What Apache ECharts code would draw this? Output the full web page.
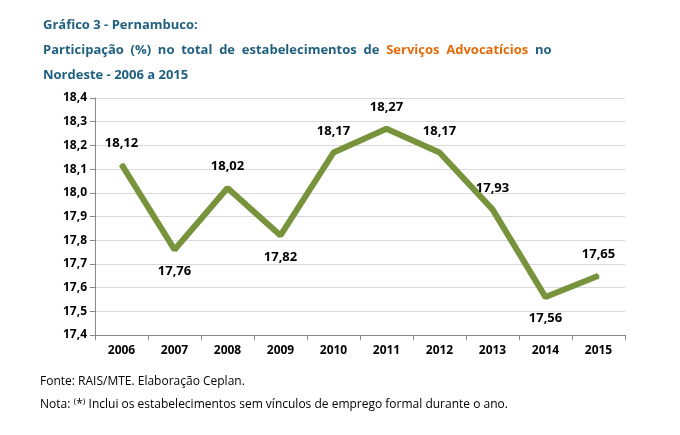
<!DOCTYPE html>
<html>
<head>
<meta charset="utf-8">
<script src="https://cdn.jsdelivr.net/npm/echarts@6/dist/echarts.min.js"></script>
<style>
  body { margin: 0; background: #fff; }
  #chart { width: 680px; height: 435px; }
</style>
</head>
<body>
<div id="chart"></div>
<script>
var anos = ['2006', '2007', '2008', '2009', '2010', '2011', '2012', '2013', '2014', '2015'];
var participacao = [18.12, 17.76, 18.02, 17.82, 18.17, 18.27, 18.17, 17.93, 17.56, 17.65];
var posicaoRotulo = ['top', 'bottom', 'top', 'bottom', 'top', 'top', 'top', 'top', 'bottom', 'top'];

var chart = echarts.init(document.getElementById('chart'));
var fonte = '"Open Sans", sans-serif';

chart.setOption({
     title: {
          left: 38,
          top: 8,
          text: '{a|Gráfico 3 - Pernambuco:}\n{a|Participação  (%)  no  total  de  estabelecimentos  de  }{b|Serviços  Advocatícios}{a|  no}\n{a|Nordeste - 2006 a 2015}',
          textStyle: {
               rich: {
                    a: { color: '#1F5F7F', fontWeight: 'bold', fontSize: 13, fontFamily: fonte, lineHeight: 25 },
                    b: { color: '#E46C0A', fontWeight: 'bold', fontSize: 13, fontFamily: fonte, lineHeight: 25 }
               }
          }
     },
     grid: { left: 95, right: 55, top: 98, bottom: 100 },
     xAxis: {
          type: 'category',
          data: anos,
          boundaryGap: true,
          axisLine: { lineStyle: { color: '#888' } },
          axisTick: { show: true, lineStyle: { color: '#888' } },
          axisLabel: { color: '#000', fontWeight: 'bold', fontSize: 12, fontFamily: fonte, margin: 10 }
     },
     yAxis: {
          type: 'value',
          min: 17.4,
          max: 18.4,
          interval: 0.1,
          axisLine: { show: true, lineStyle: { color: '#888' } },
          axisTick: { show: true, lineStyle: { color: '#888' } },
          splitLine: { lineStyle: { color: '#d9d9d9' } },
          axisLabel: {
               color: '#000', fontWeight: 'bold', fontSize: 12, fontFamily: fonte,
               formatter: function (v) { return v.toFixed(1).replace('.', ','); }
          }
     },
     series: [{
          type: 'line',
          data: participacao.map(function (v, i) {
               return { value: v, label: { position: posicaoRotulo[i] } };
          }),
          symbol: 'circle',
          symbolSize: 2,
          showSymbol: true,
          itemStyle: { color: '#77933C' },
          lineStyle: { color: '#77933C', width: 6 },
          label: {
               show: true,
               distance: 14,
               color: '#000',
               fontWeight: 'bold',
               fontSize: 13,
               fontFamily: fonte,
               formatter: function (p) { return p.value.toFixed(2).replace('.', ','); }
          }
     }],
     graphic: [{
          type: 'text', left: 40, top: 376,
          style: { text: 'Fonte: RAIS/MTE. Elaboração Ceplan.', fill: '#000', font: '12px "Open Sans", sans-serif' }
     }, {
          type: 'text', left: 40, top: 399,
          style: { text: 'Nota: ⁽*⁾ Inclui os estabelecimentos sem vínculos de emprego formal durante o ano.', fill: '#000', font: '12px "Open Sans", sans-serif' }
     }]
});
</script>
</body>
</html>
